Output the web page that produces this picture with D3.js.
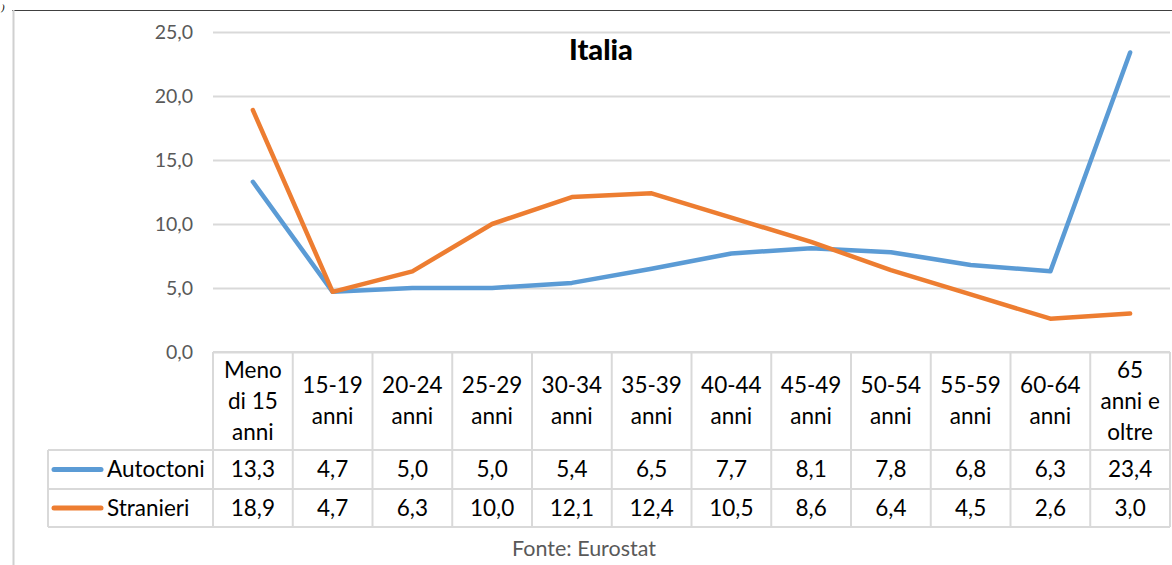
<!DOCTYPE html>
<html><head><meta charset="utf-8">
<script src="https://cdn.jsdelivr.net/npm/d3@7"></script>
<style>
html,body{margin:0;padding:0;background:#fff;}
svg{display:block;}
</style></head>
<body>
<svg id="c" width="1172" height="565"></svg>
<script>
const categories = [
  ["Meno","di 15","anni"],["15-19","anni"],["20-24","anni"],["25-29","anni"],
  ["30-34","anni"],["35-39","anni"],["40-44","anni"],["45-49","anni"],
  ["50-54","anni"],["55-59","anni"],["60-64","anni"],["65","anni e","oltre"]
];
const autoctoni = [13.3,4.7,5.0,5.0,5.4,6.5,7.7,8.1,7.8,6.8,6.3,23.4];
const stranieri = [18.9,4.7,6.3,10.0,12.1,12.4,10.5,8.6,6.4,4.5,2.6,3.0];
const seriesNames = ["Autoctoni","Stranieri"];
const seriesColors = ["#5B9BD5","#ED7D31"];
const yTicks = [0,5,10,15,20,25];
const chartTitle = "Italia";
const sourceText = "Fonte: Eurostat";

const FONT = "Lato, 'Open Sans', sans-serif";
const svg = d3.select("#c");
const pLeft = 213, pRight = 1170, pTop = 32, pBottom = 352;
const legendLeft = 48;
const headerBottom = 450, row1Bottom = 489, row2Bottom = 527;
const tableFont = 22.5;

const loc = d3.formatLocale({decimal:",", thousands:".", grouping:[3], currency:["","€"]});
const fmt = loc.format(".1f");

const keys = categories.map((c,i)=>i);
const x = d3.scaleBand().domain(keys).range([pLeft,pRight]).paddingInner(0).paddingOuter(0);
const y = d3.scaleLinear().domain([0,25]).range([pBottom,pTop]);

// frame
svg.append("line").attr("x1",12).attr("x2",1172).attr("y1",10.5).attr("y2",10.5).attr("stroke","#404040").attr("stroke-width",1.2);
svg.append("line").attr("x1",13.5).attr("x2",13.5).attr("y1",10).attr("y2",565).attr("stroke","#d0d0d0").attr("stroke-width",2);
svg.append("text").attr("x",1).attr("y",11).attr("font-family","'DejaVu Serif',serif").attr("font-style","italic").attr("font-size",10).text(")");

// y axis
const yAxis = d3.axisLeft(y).tickValues(yTicks).tickFormat(fmt).tickSize(-(pRight-pLeft)).tickPadding(20);
const ga = svg.append("g").attr("transform",`translate(${pLeft},0)`).call(yAxis);
ga.select(".domain").remove();
ga.selectAll(".tick line").attr("stroke","#d9d9d9").attr("stroke-width",2);
ga.selectAll(".tick text").attr("font-family",FONT).attr("font-size",19.5).attr("fill","#595959");

// title
svg.append("text").attr("x",601).attr("y",60).attr("text-anchor","middle")
  .attr("font-family",FONT).attr("font-weight","900").attr("font-size",29).attr("fill","#000").text(chartTitle);

// lines
const line = d3.line().x((d,i)=>x(i)+x.bandwidth()/2).y(d=>y(d));
[autoctoni, stranieri].forEach((s,k)=>{
  svg.append("path").datum(s).attr("d",line).attr("fill","none")
    .attr("stroke",seriesColors[k]).attr("stroke-width",4.5)
    .attr("stroke-linejoin","round").attr("stroke-linecap","round");
});

// table
const gridC = "#d9d9d9", gw = 2;
const tbl = svg.append("g");
[[pLeft,pBottom],[legendLeft,headerBottom],[legendLeft,row1Bottom],[legendLeft,row2Bottom]].forEach(([x0,yy])=>{
  tbl.append("line").attr("x1",x0).attr("x2",pRight).attr("y1",yy).attr("y2",yy).attr("stroke",gridC).attr("stroke-width",gw);
});
tbl.append("line").attr("x1",legendLeft).attr("x2",legendLeft).attr("y1",headerBottom).attr("y2",row2Bottom).attr("stroke",gridC).attr("stroke-width",gw);
keys.forEach(i=>{
  tbl.append("line").attr("x1",x(i)).attr("x2",x(i)).attr("y1",pBottom).attr("y2",row2Bottom).attr("stroke",gridC).attr("stroke-width",gw);
});
tbl.append("line").attr("x1",pRight).attr("x2",pRight).attr("y1",pBottom).attr("y2",row2Bottom).attr("stroke",gridC).attr("stroke-width",gw);

const lh = 31, hc = (pBottom+headerBottom)/2;
categories.forEach((lines,i)=>{
  const t = tbl.append("text").attr("text-anchor","middle").attr("font-family",FONT).attr("font-size",tableFont).attr("fill","#000");
  const n = lines.length;
  lines.forEach((s,j)=>{
    t.append("tspan").attr("x",x(i)+x.bandwidth()/2).attr("y",hc+(j-(n-1)/2)*lh).attr("dy","0.35em").text(s);
  });
});

const rowsY = [(headerBottom+row1Bottom)/2,(row1Bottom+row2Bottom)/2];
[autoctoni,stranieri].forEach((s,k)=>{
  const cy = rowsY[k];
  tbl.append("line").attr("x1",54).attr("x2",101).attr("y1",cy).attr("y2",cy)
    .attr("stroke",seriesColors[k]).attr("stroke-width",5).attr("stroke-linecap","round");
  tbl.append("text").attr("x",107).attr("y",cy).attr("dy","0.35em").attr("font-family",FONT).attr("font-size",tableFont).attr("fill","#000").text(seriesNames[k]);
  s.forEach((v,i)=>{
    tbl.append("text").attr("x",x(i)+x.bandwidth()/2).attr("y",cy).attr("dy","0.35em").attr("text-anchor","middle")
      .attr("font-family",FONT).attr("font-size",tableFont).attr("fill","#000").text(fmt(v));
  });
});

svg.append("text").attr("x",584).attr("y",556).attr("text-anchor","middle").attr("font-family",FONT).attr("font-size",21.5).attr("fill","#595959").text(sourceText);
</script>
</body></html>
